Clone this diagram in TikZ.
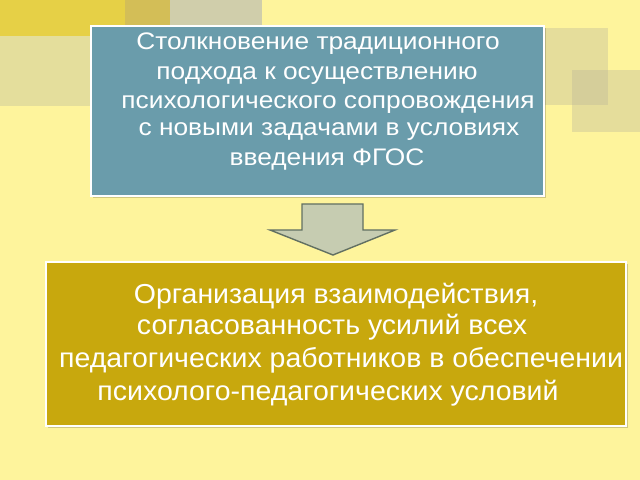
\documentclass[tikz,border=0pt]{standalone}
\usepackage{fontspec}
\setmainfont{Liberation Sans}
\newfontfamily\topfont[FakeStretch=1.1]{Liberation Sans}
\newfontfamily\botfont[FakeStretch=1.04]{Liberation Sans}
\definecolor{bg}{HTML}{FEF49C}
\definecolor{gold}{HTML}{E6D046}
\definecolor{olivesq}{HTML}{D3BE57}
\definecolor{greysq}{HTML}{D0CEAB}
\definecolor{khaki}{HTML}{E4DE9C}
\definecolor{sqr}{HTML}{B8B49A}
\definecolor{topfill}{HTML}{6A9CAB}
\definecolor{botfill}{HTML}{C8A80D}
\definecolor{arrfill}{HTML}{C6CCB1}
\definecolor{arrline}{HTML}{627062}
\tikzset{
  boxstyle/.style={draw=white, line width=2.2bp},
  shadowstyle/.style={fill=black, opacity=0.18},
  txt/.style={text=white, inner sep=0pt, anchor=center, font=\topfont\fontsize{24}{26}\selectfont},
  txtb/.style={text=white, inner sep=0pt, anchor=center, font=\botfont\fontsize{27.5}{30}\selectfont},
}
\begin{document}
\begin{tikzpicture}[x=1bp,y=-1bp]
\useasboundingbox (0,0) rectangle (640,480);
\fill[bg] (0,0) rectangle (640,480);
% decorative squares top-left
\fill[gold] (0,0) rectangle (125,36);
\fill[khaki] (0,36) rectangle (95,106);
\fill[olivesq] (125,0) rectangle (170,30);
\fill[greysq] (170,0) rectangle (262,30);
% decorative squares right
\fill[sqr, opacity=0.35] (545,28) rectangle (608,105);
\fill[sqr, opacity=0.35] (572,70) rectangle (640,132);
% top box
\fill[shadowstyle] (93,28) rectangle (546,198);
\node[boxstyle, fill=topfill, minimum width=453bp, minimum height=170bp, inner sep=0pt, anchor=north west] (top) at (90,25) {};
\node[txt] (t1) at (318,44) {Столкновение традиционного};
\node[txt] (t2) at (317,76) {подхода к осуществлению};
\node[txt] (t3) at (328,105) {психологического сопровождения};
\node[txt] (t4) at (329,132) {с новыми задачами в условиях};
\node[txt] (t5) at (327,160) {введения ФГОС};
% bottom box
\fill[shadowstyle] (48,264) rectangle (628,428);
\node[boxstyle, fill=botfill, minimum width=580bp, minimum height=164bp, inner sep=0pt, anchor=north west] (bot) at (45,261) {};
\node[txtb] (b1) at (336,296) {Организация взаимодействия,};
\node[txtb] (b2) at (332,327) {согласованность усилий всех};
\node[txtb] (b3) at (341,360) {педагогических работников в обеспечении};
\node[txtb] (b4) at (328,393) {психолого-педагогических условий};
% arrow
\draw[fill=arrfill, draw=arrline, line width=1.4bp, line join=miter]
  (302,204) -- (363,204) -- (363,230) -- (395,230) -- (333,255) -- (270,230) -- (302,230) -- cycle;
\end{tikzpicture}
\end{document}
